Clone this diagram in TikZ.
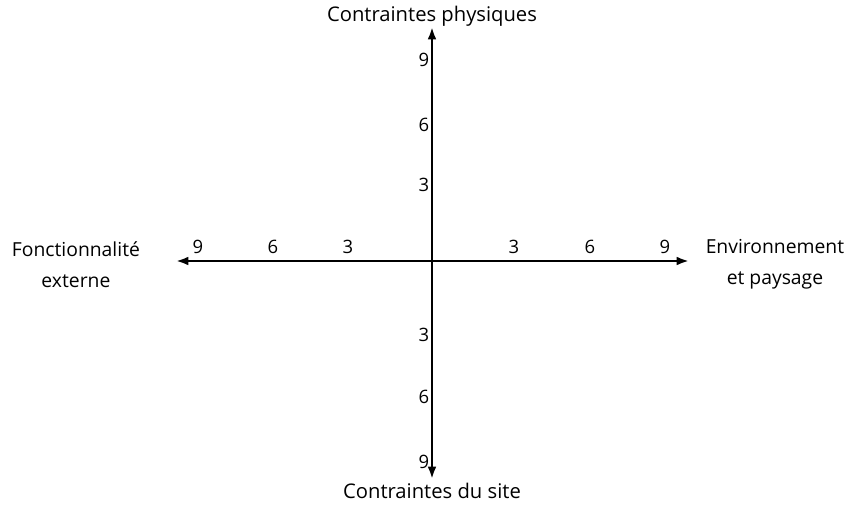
\documentclass[tikz,border=0pt]{standalone}
\usepackage{fontspec}
\setmainfont{Open Sans}
\usetikzlibrary{arrows.meta,positioning,calc}

\begin{document}
\begin{tikzpicture}[
  x=0.02cm, y=-0.02cm,
  font=\fontsize{11.5}{14}\selectfont,
  axis/.style={-{Latex[length=7pt,width=5pt]}, line width=1.6pt},
  tick/.style={font=\fontsize{10.5}{12}\selectfont, inner sep=1pt},
  pole/.style={align=center},
  side/.style={pole, font=\fontsize{11}{13.5}\selectfont}
]
\useasboundingbox (0,0) rectangle (850,508);

% axes
\coordinate (o) at (432,261);
\coordinate (west) at (176,261);
\coordinate (east) at (689,261);
\coordinate (north) at (432,27);
\coordinate (south) at (432,479);

\draw[axis] (o) -- (west);
\draw[axis] (o) -- (east);
\draw[axis] (o) -- (north);
\draw[axis] (o) -- (south);

% graduations
\foreach \v/\dx in {3/85,6/160,9/235} {
  \node[tick] (w\v) at ($(o)+(-\dx+1,-14)$) {\v};
}
\foreach \v/\dx in {3/82,6/158,9/233} {
  \node[tick] (e\v) at ($(o)+(\dx,-14)$) {\v};
}
\foreach \v/\dy in {3/76,6/136,9/201} {
  \node[tick] (n\v) at ($(o)+(-8,-\dy)$) {\v};
}
\foreach \v/\dy in {3/74,6/136,9/201} {
  \node[tick] (s\v) at ($(o)+(-8,\dy)$) {\v};
}

% poles
\node[pole, above=-3pt of north] (phys) {Contraintes physiques};
\node[pole, below=-1pt of south] (site) {Contraintes du site};
\node[side, left=17pt of west, yshift=-2pt] (fonc) {Fonctionnalité\\[4pt]externe};
\node[side, right=6pt of east, yshift=-2pt] (env) {Environnement\\[4pt]et paysage};

\end{tikzpicture}
\end{document}
